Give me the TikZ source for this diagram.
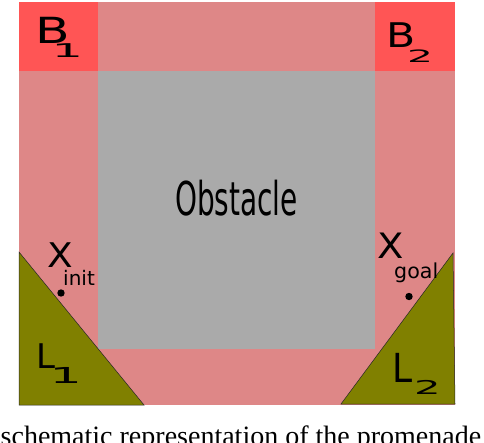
\documentclass[tikz,border=0pt]{standalone}
\usepackage{fontspec}
\setmainfont{DejaVu Sans}
\newfontfamily\capfont{Liberation Serif}
\definecolor{pinkreg}{HTML}{DE8787}
\definecolor{redbox}{HTML}{FF5555}
\definecolor{obstgray}{HTML}{AAAAAA}
\definecolor{landolive}{HTML}{808000}
\begin{document}
\begin{tikzpicture}[x=1pt,y=-1pt,
  lab/.style={inner sep=0pt, anchor=base west},
  land/.style={fill=landolive, draw=black!85, line width=0.5pt},
  pt/.style={circle, fill=black, inner sep=0pt, minimum size=7.4pt}]
\clip (0,0) rectangle (484,442);
% regions
\fill[pinkreg] (19,2) rectangle (455,405);
\fill[redbox] (19,2) rectangle (98,71);
\fill[redbox] (375,2) rectangle (455,71);
\fill[obstgray] (98,71) rectangle (375,349);
\filldraw[land] (19,252) -- (19,405) -- (144,405) -- cycle;
\filldraw[land] (453,253) -- (341,404) -- (455,404) -- cycle;
% labels
\node[lab] (b1) at (35,43) {\fontsize{36}{40}\selectfont\scalebox{1.4}[1]{B}};
\node[lab] (b1s) at (51.5,57.5) {\fontsize{19}{22}\selectfont\scalebox{2.6}[1]{1}};
\node[lab] (b2) at (386,47) {\fontsize{34}{40}\selectfont\scalebox{1.25}[1]{B}};
\node[lab] (b2s) at (407,62) {\fontsize{17}{20}\selectfont\scalebox{2.4}[1]{2}};
\node[inner sep=0pt, anchor=base] (obs) at (236.5,215) {\fontsize{46.6}{50}\selectfont\scalebox{0.6}[1]{Obstacle}};
\node[lab] (xi) at (47,267) {\fontsize{34}{40}\selectfont\scalebox{1.1}[1]{X}};
\node[lab] (xis) at (63,285) {\fontsize{20}{24}\selectfont init};
\node[pt] (pinit) at (61,293) {};
\node[lab] (xg) at (377,258) {\fontsize{35}{40}\selectfont\scalebox{1.1}[1]{X}};
\node[lab] (xgs) at (394,278) {\fontsize{20.6}{24}\selectfont goal};
\node[pt] (pgoal) at (409,296.5) {};
\node[lab] (l1) at (36,368) {\fontsize{34}{40}\selectfont L};
\node[lab] (l1s) at (49.5,383) {\fontsize{22}{26}\selectfont\scalebox{2.3}[1]{1}};
\node[lab] (l2) at (392,382) {\fontsize{40}{44}\selectfont\scalebox{0.9}[1]{L}};
\node[lab] (l2s) at (414,394) {\fontsize{19}{22}\selectfont\scalebox{2.2}[1]{2}};
% caption (cropped)
\node[lab] (cap) at (0.5,445) {\capfont\fontsize{28}{30}\selectfont schematic representation of the promenade};
\end{tikzpicture}
\end{document}
